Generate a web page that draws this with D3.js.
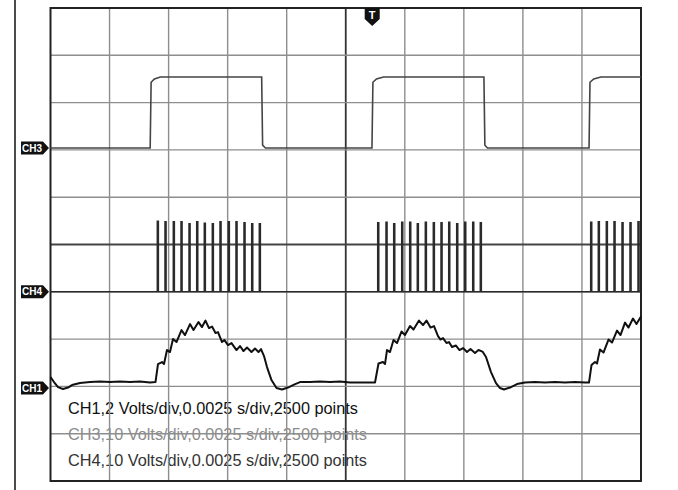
<!DOCTYPE html>
<html>
<head>
<meta charset="utf-8">
<script src="https://cdn.jsdelivr.net/npm/d3@7/dist/d3.min.js"></script>
<style>
  html, body { margin: 0; padding: 0; background: #fff; }
  svg { display: block; font-family: "Liberation Sans", Arial, sans-serif; }
</style>
</head>
<body>
<div id="scope"></div>
<script>
// grille de l'oscillo : 10 div en temps (2.5 ms/div), 10 div en vertical
const timeGrid = [0, 2.5, 5, 7.5, 10, 12.5, 15, 17.5, 20, 22.5, 25];
const divGrid = [-5, -4, -3, -2, -1, 0, 1, 2, 3, 4, 5];
const triggerTime = 13.62;

const channels = ["CH3", "CH4", "CH1"];
const channelOffsets = [2.04, -1.0, -3.035];   // en divisions
const voltsPerDiv = [10, 10, 2];

const legendLines = [
  "CH1,2 Volts/div,0.0025 s/div,2500 points",
  "CH3,10 Volts/div,0.0025 s/div,2500 points",
  "CH4,10 Volts/div,0.0025 s/div,2500 points"
];

// CH3 : signal carré (ms, V)
const ch3Time = [0, 4.22, 4.26, 4.40, 4.65, 8.94, 8.98, 9.10, 13.61, 13.65, 13.80, 14.10, 18.35, 18.39, 18.50, 22.80, 22.84, 23.00, 23.30, 25];
const ch3Volts = [0, 0, 13.9, 14.6, 15.0, 15.0, 0.6, 0, 0, 13.9, 14.6, 15.0, 15.0, 0.6, 0, 0, 13.9, 14.6, 15.0, 15.0];

// CH4 : impulsions (ms, V)
const ch4SpikeTimes = [
  4.522, 4.848, 5.199, 5.525, 5.864, 6.190, 6.511, 6.850, 7.176, 7.527, 7.853, 8.192, 8.518, 8.840,
  13.853, 14.204, 14.530, 14.869, 15.207, 15.529, 15.868, 16.207, 16.533, 16.859, 17.197, 17.536, 17.875, 18.196,
  22.870, 23.192, 23.531, 23.857, 24.196, 24.534, 24.873
];
const ch4SpikeVolts = [
  14.9, 14.8, 14.8, 14.8, 14.4, 14.8, 14.5, 14.4, 14.8, 14.8, 14.8, 14.6, 14.4, 14.4,
  14.6, 14.7, 14.4, 14.7, 14.7, 14.4, 14.7, 14.6, 14.6, 14.7, 14.4, 14.7, 14.7, 14.6,
  14.7, 14.8, 14.8, 14.8, 14.6, 14.6, 14.8
];
const ch4PulseWidth = 0.045;

// CH1 : tension avec ondulation (ms, V)
const ch1Time = [
  0, 0.148, 0.318, 0.529, 0.741, 0.910, 1.249, 1.672, 2.096, 2.519, 2.942, 3.366, 3.789, 4.212, 4.445,
  4.551, 4.721, 4.805, 4.932, 5.059, 5.186, 5.334, 5.546, 5.694, 5.906, 6.054, 6.266, 6.414, 6.562, 6.710,
  6.837, 6.986, 7.091, 7.261, 7.367, 7.515, 7.663, 7.875, 8.023, 8.171, 8.319, 8.510, 8.658, 8.806, 8.912,
  9.039, 9.166, 9.356, 9.568, 9.801, 10.055, 10.309, 10.563, 10.987, 11.410, 11.833, 12.257, 12.680, 13.103,
  13.442, 13.739, 13.887, 14.077, 14.162, 14.246, 14.373, 14.522, 14.670, 14.860, 15.008, 15.220, 15.368,
  15.601, 15.770, 15.918, 16.088, 16.236, 16.406, 16.512, 16.617, 16.765, 16.871, 16.998, 17.167, 17.316,
  17.464, 17.633, 17.782, 17.972, 18.120, 18.290, 18.438, 18.649, 18.861, 19.030, 19.200, 19.454, 19.750,
  20.085, 20.508, 20.935, 21.359, 21.782, 22.206, 22.629, 22.798, 22.904, 23.052, 23.137, 23.264, 23.412,
  23.624, 23.772, 23.984, 24.132, 24.323, 24.471, 24.661, 24.809, 25.0
];
const ch1Volts = [
  0.465, 0.254, 0.042, -0.042, 0.021, 0.127, 0.211, 0.254, 0.275, 0.254, 0.275, 0.254, 0.275, 0.233, 0.254,
  1.015, 1.099, 1.015, 1.607, 1.522, 2.072, 1.945, 2.452, 2.241, 2.706, 2.452, 2.790, 2.579, 2.854, 2.537,
  2.600, 2.325, 2.368, 1.945, 2.029, 1.818, 1.903, 1.607, 1.776, 1.564, 1.712, 1.522, 1.670, 1.522, 1.649,
  1.353, 0.888, 0.338, 0.000, -0.063, 0.021, 0.148, 0.254, 0.254, 0.275, 0.254, 0.275, 0.233, 0.233,
  0.233, 0.233, 1.036, 1.099, 1.015, 1.607, 1.522, 2.029, 1.903, 2.389, 2.241, 2.621, 2.473,
  2.854, 2.664, 2.854, 2.558, 2.621, 2.199, 2.051, 2.114, 1.903, 1.945, 1.734, 1.797, 1.607,
  1.691, 1.522, 1.649, 1.480, 1.607, 1.543, 1.311, 0.676, 0.211, 0.000, -0.063, 0.021, 0.169,
  0.233, 0.254, 0.233, 0.254, 0.233, 0.254, 0.233, 0.233, 0.972, 1.099, 1.036, 1.628, 1.501,
  2.051, 1.924, 2.431, 2.241, 2.769, 2.558, 2.939, 2.706, 3.023
];

const W = 678, H = 490;
const plot = { left: 50.5, right: 641, top: 8, bottom: 481 };

const svg = d3.select("#scope").append("svg")
  .attr("width", W)
  .attr("height", H);

const x = d3.scaleLinear().domain([0, 25]).range([plot.left, plot.right]);
const y = d3.scaleLinear().domain([-5, 5]).range([plot.bottom, plot.top]);

// trait vertical à gauche de l'image
svg.append("line")
  .attr("x1", 15).attr("x2", 15)
  .attr("y1", 0).attr("y2", H)
  .attr("stroke", "#111")
  .attr("stroke-width", 1.5);

// légende (sous la grille)
const legendColors = ["#111", "#8c8c8c", "#333"];
svg.append("g").selectAll("text")
  .data(legendLines)
  .enter()
  .append("text")
  .attr("x", 68)
  .attr("y", (d, i) => 413.5 + i * 26)
  .attr("font-size", 16.3)
  .attr("fill", (d, i) => legendColors[i])
  .text(d => d);

// grille
const grid = svg.append("g");
grid.selectAll("line.v")
  .data(timeGrid.slice(1, -1))
  .enter()
  .append("line")
  .attr("x1", d => x(d)).attr("x2", d => x(d))
  .attr("y1", plot.top).attr("y2", plot.bottom)
  .attr("stroke", d => d === 12.5 ? "#333" : "#8e8e8e")
  .attr("stroke-width", d => d === 12.5 ? 1.8 : 1.4);

grid.selectAll("line.h")
  .data(divGrid.slice(1, -1))
  .enter()
  .append("line")
  .attr("x1", plot.left).attr("x2", plot.right)
  .attr("y1", d => y(d)).attr("y2", d => y(d))
  .attr("stroke", d => d === 0 ? "#444" : "#8e8e8e")
  .attr("stroke-width", d => d === 0 ? 1.8 : 1.4);

svg.append("rect")
  .attr("x", plot.left).attr("y", plot.top)
  .attr("width", plot.right - plot.left)
  .attr("height", plot.bottom - plot.top)
  .attr("fill", "none")
  .attr("stroke", "#222")
  .attr("stroke-width", 2);

function traceLine(offset, vdiv) {
  return d3.line()
    .x(d => x(d[0]))
    .y(d => y(offset + d[1] / vdiv));
}

// CH3
svg.append("path")
  .datum(ch3Time.map((t, i) => [t, ch3Volts[i]]))
  .attr("d", traceLine(channelOffsets[0], voltsPerDiv[0]))
  .attr("fill", "none")
  .attr("stroke", "#444")
  .attr("stroke-width", 1.6);

// CH4
const ch4Points = [[0, 0]];
ch4SpikeTimes.forEach((t, i) => {
  ch4Points.push([t, 0], [t, ch4SpikeVolts[i]], [t + ch4PulseWidth, ch4SpikeVolts[i]], [t + ch4PulseWidth, 0]);
});
ch4Points.push([25, 0]);
svg.append("path")
  .datum(ch4Points)
  .attr("d", traceLine(channelOffsets[1], voltsPerDiv[1]))
  .attr("fill", "none")
  .attr("stroke", "#2a2a2a")
  .attr("stroke-width", 1.5);

// CH1
svg.append("path")
  .datum(ch1Time.map((t, i) => [t, ch1Volts[i]]))
  .attr("d", traceLine(channelOffsets[2], voltsPerDiv[2]))
  .attr("fill", "none")
  .attr("stroke", "#111")
  .attr("stroke-width", 2)
  .attr("stroke-linejoin", "round");

// repères de voies
const markers = svg.append("g").selectAll("g")
  .data(channels)
  .enter()
  .append("g")
  .attr("transform", (d, i) => `translate(21,${y(channelOffsets[i])})`);

markers.append("path")
  .attr("d", "M0,-6.5 L22,-6.5 L28,0 L22,6.5 L0,6.5 Z")
  .attr("fill", "#111");

markers.append("text")
  .attr("x", 11)
  .attr("y", 3.5)
  .attr("text-anchor", "middle")
  .attr("font-size", 10)
  .attr("font-weight", "bold")
  .attr("fill", "#fff")
  .text(d => d);

// repère de déclenchement
const trig = svg.append("g")
  .attr("transform", `translate(${x(triggerTime)},${plot.top})`);
trig.append("path")
  .attr("d", "M-7.5,0 L7.5,0 L7.5,11 L0,18 L-7.5,11 Z")
  .attr("fill", "#111");
trig.append("text")
  .attr("x", 0)
  .attr("y", 11)
  .attr("text-anchor", "middle")
  .attr("font-size", 11)
  .attr("font-weight", "bold")
  .attr("fill", "#fff")
  .text("T");
</script>
</body>
</html>
